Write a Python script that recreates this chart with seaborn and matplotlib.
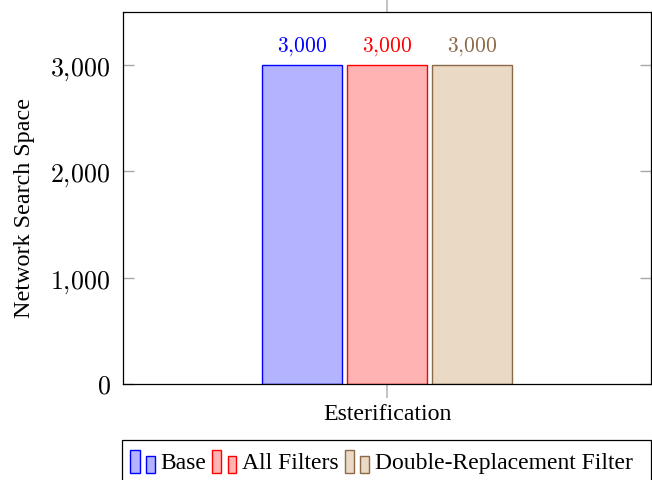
import matplotlib
matplotlib.use("Agg")
import matplotlib.pyplot as plt
import seaborn as sns
import pandas as pd
from matplotlib.patches import Rectangle
from matplotlib.legend_handler import HandlerBase
from matplotlib.ticker import FuncFormatter

categories = ["Esterification"]
series = ["Base", "All Filters", "Double-Replacement Filter"]
values = [3000, 3000, 3000]
yticks = [0, 1000, 2000, 3000]

edge_colors = ["#0000ff", "#ff0000", "#8c6a48"]
fill_colors = ["#b3b3ff", "#ffb3b3", "#ead9c5"]

sns.set_theme(style="white")
plt.rcParams["font.family"] = ["Liberation Serif", "DejaVu Serif"]
plt.rcParams["mathtext.fontset"] = "cm"
plt.rcParams["text.color"] = "black"
plt.rcParams["axes.labelcolor"] = "black"
plt.rcParams["xtick.labelcolor"] = "black"
plt.rcParams["ytick.labelcolor"] = "black"

df = pd.DataFrame({
    "category": categories * len(series),
    "series": series,
    "value": values,
})

fig = plt.figure(figsize=(6.52, 4.81), dpi=100)
ax = fig.add_axes([123 / 652, 1 - 385 / 481, 528 / 652, (385 - 13) / 481])

sns.barplot(data=df, x="category", y="value", hue="series", hue_order=series,
            palette=fill_colors, saturation=1, width=0.8, gap=0.06, ax=ax,
            legend=False, linewidth=1.0)

for cont, ec in zip(ax.containers, edge_colors):
    for p in cont:
        p.set_edgecolor(ec)
        p.set_linewidth(1.0)
    ax.bar_label(cont, labels=[r"$3{,}000$" for _ in cont], color=ec,
                 fontsize=15.5, padding=6)

ax.set_ylim(0, 3500)
ax.set_xlim(-0.828, 0.828)
ax.set_yticks(yticks)
ax.yaxis.set_major_formatter(FuncFormatter(
    lambda v, p: r"$%s$" % ("{:,}".format(int(v)).replace(",", "{,}"))))
ax.set_xlabel("")
ax.set_ylabel("Network Search Space", fontsize=17.4, color="black")
ax.yaxis.set_label_coords(-0.166, 0.475)

for s in ax.spines.values():
    s.set_visible(True)
    s.set_color("black")
    s.set_linewidth(0.9)

ax.tick_params(axis="y", which="major", direction="in", length=8, width=1,
               color="#a8a8a8", left=True, right=True, labelsize=18.7, pad=9,
               labelcolor="black")
ax.tick_params(axis="x", which="major", direction="out", length=10, width=1.2,
               color="#b8b8b8", bottom=True, top=True, labelsize=17.2, pad=4,
               labelcolor="black")


class TwoBars(HandlerBase):
    def __init__(self, ec, fc):
        super().__init__()
        self.ec = ec
        self.fc = fc

    def create_artists(self, legend, orig_handle, xdescent, ydescent, width,
                       height, fontsize, trans):
        r1 = Rectangle((-xdescent, -ydescent - 0.2 * height), width * 0.38,
                       height * 1.2, facecolor=self.fc, edgecolor=self.ec,
                       linewidth=1.0, transform=trans)
        r2 = Rectangle((-xdescent + width * 0.64, -ydescent - 0.2 * height),
                       width * 0.34, height * 0.9, facecolor=self.fc,
                       edgecolor=self.ec, linewidth=1.0, transform=trans)
        return [r1, r2]


handles = [Rectangle((0, 0), 1, 1) for _ in series]
handler_map = {h: TwoBars(ec, fc) for h, ec, fc in zip(handles, edge_colors, fill_colors)}
leg = fig.legend(handles, series, handler_map=handler_map, ncol=3,
                 loc="upper left", bbox_to_anchor=(122 / 652, 1 - 443 / 481),
                 bbox_transform=fig.transFigure, borderaxespad=0,
                 fontsize=17, frameon=False, labelcolor="black",
                 handlelength=1.05, handleheight=0.85, handletextpad=0.22,
                 columnspacing=0.25, borderpad=0.35)

# legend frame (extends past the bottom edge like the reference)
fig.patches.append(Rectangle((122 / 652, -0.05), (651 - 122) / 652,
                             (1 - 441 / 481) + 0.05, transform=fig.transFigure,
                             fill=False, edgecolor="black", linewidth=0.9))

fig.savefig("out.png", dpi=100)
